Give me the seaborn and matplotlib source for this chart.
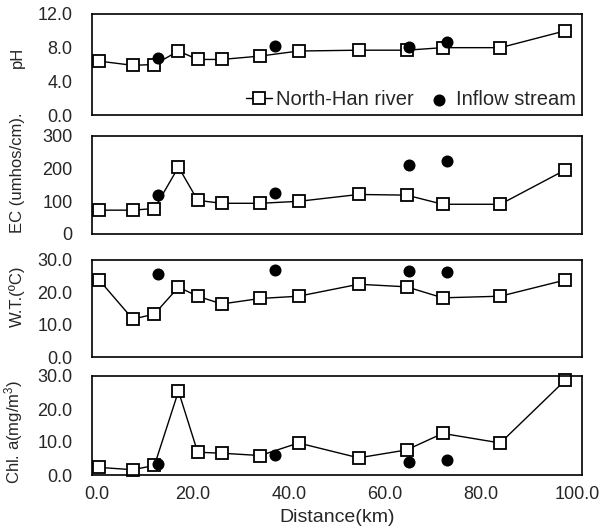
import matplotlib
matplotlib.use("Agg")
import matplotlib.pyplot as plt
import seaborn as sns
import pandas as pd
from matplotlib.ticker import FormatStrFormatter

# ---- data ----
river_km = [0.5, 7.5, 12, 17, 21, 26, 34, 42, 54.5, 64.5, 72, 84, 97.5]
inflow_km = [12.8, 37, 65, 72.8]

ph_river = [6.4, 5.9, 6.0, 7.6, 6.6, 6.6, 7.0, 7.6, 7.7, 7.7, 8.0, 8.0, 10.0]
ph_inflow = [6.8, 8.2, 8.1, 8.7]

ec_river = [73, 73, 78, 205, 103, 94, 94, 100, 121, 119, 91, 91, 196]
ec_inflow = [119, 125, 210, 225]

wt_river = [23.8, 11.7, 13.3, 21.6, 18.8, 16.4, 18.1, 18.8, 22.5, 21.7, 18.3, 18.8, 23.8]
wt_inflow = [25.6, 27.0, 26.6, 26.4]

chl_river = [2.3, 1.6, 2.9, 25.4, 6.9, 6.6, 5.9, 9.7, 5.2, 7.6, 12.6, 9.7, 28.7]
chl_inflow = [3.3, 6.1, 3.8, 4.6]

y_labels = ["pH", "EC (umhos/cm).", "W.T.(\u00baC)", "Chl. a(mg/m$^3$)"]
y_limits = [(0, 12), (0, 300), (0, 30), (0, 30)]
y_ticks = [[0, 4, 8, 12], [0, 100, 200, 300], [0, 10, 20, 30], [0, 10, 20, 30]]
y_fmt = ["%.1f", "%d", "%.1f", "%.1f"]
x_ticks = [0, 20, 40, 60, 80, 100]
legend_labels = ["North-Han river", "Inflow stream"]

sns.set_style("white")
plt.rcParams["font.family"] = ["Liberation Sans", "DejaVu Sans"]
plt.rcParams["mathtext.fontset"] = "custom"
plt.rcParams["mathtext.rm"] = "Liberation Sans"
plt.rcParams["mathtext.it"] = "Liberation Sans"

fig = plt.figure(figsize=(6.15, 5.32), dpi=100)
W, H = 615.0, 532.0
panels_px = [(14, 115), (136, 234), (260, 357), (376, 475)]
left_px, right_px = 92, 582
label_y = [0.57, 0.63, 0.63, 0.43]

series = [(ph_river, ph_inflow), (ec_river, ec_inflow),
          (wt_river, wt_inflow), (chl_river, chl_inflow)]

axes = []
for i, ((top, bot), (riv, inf)) in enumerate(zip(panels_px, series)):
    ax = fig.add_axes([left_px / W, 1 - bot / H, (right_px - left_px) / W, (bot - top) / H])
    axes.append(ax)
    df_r = pd.DataFrame({"km": river_km, "val": riv})
    df_i = pd.DataFrame({"km": inflow_km, "val": inf})
    sns.lineplot(data=df_r, x="km", y="val", ax=ax, color="black", linewidth=1.0,
                 marker="s", markersize=8, markerfacecolor="white",
                 markeredgecolor="black", markeredgewidth=1.3,
                 label=legend_labels[0], zorder=2, clip_on=False)
    sns.scatterplot(data=df_i, x="km", y="val", ax=ax, color="black", s=75,
                    edgecolor="black", linewidth=0, label=legend_labels[1], zorder=3)
    ax.set_xlim(-1, 101)
    ax.set_ylim(*y_limits[i])
    ax.set_yticks(y_ticks[i])
    ax.yaxis.set_major_formatter(FormatStrFormatter(y_fmt[i]))
    ax.set_xticks(x_ticks)
    ax.xaxis.set_major_formatter(FormatStrFormatter("%.1f"))
    ax.tick_params(direction="in", length=3, width=0.6, color="#999999",
                   labelsize=13)
    ax.tick_params(axis="y", pad=14)
    ax.tick_params(axis="x", pad=8)
    for s in ax.spines.values():
        s.set_color("black")
        s.set_linewidth(1.2)
    ax.set_ylabel(y_labels[i], fontsize=12)
    ax.yaxis.set_label_coords(-0.137, label_y[i])
    if i < 3:
        ax.tick_params(labelbottom=False)
        ax.set_xlabel("")
    else:
        ax.set_xlabel("Distance(km)", fontsize=14, labelpad=4)
    if i == 0:
        ax.legend(loc="lower right", ncol=2, frameon=False, fontsize=14.5,
                  handlelength=1.3, handletextpad=0.2, columnspacing=0.6,
                  borderaxespad=0.1, borderpad=0.2)
    else:
        lg = ax.get_legend()
        if lg is not None:
            lg.remove()

fig.savefig("out.png", dpi=100, facecolor="white")
